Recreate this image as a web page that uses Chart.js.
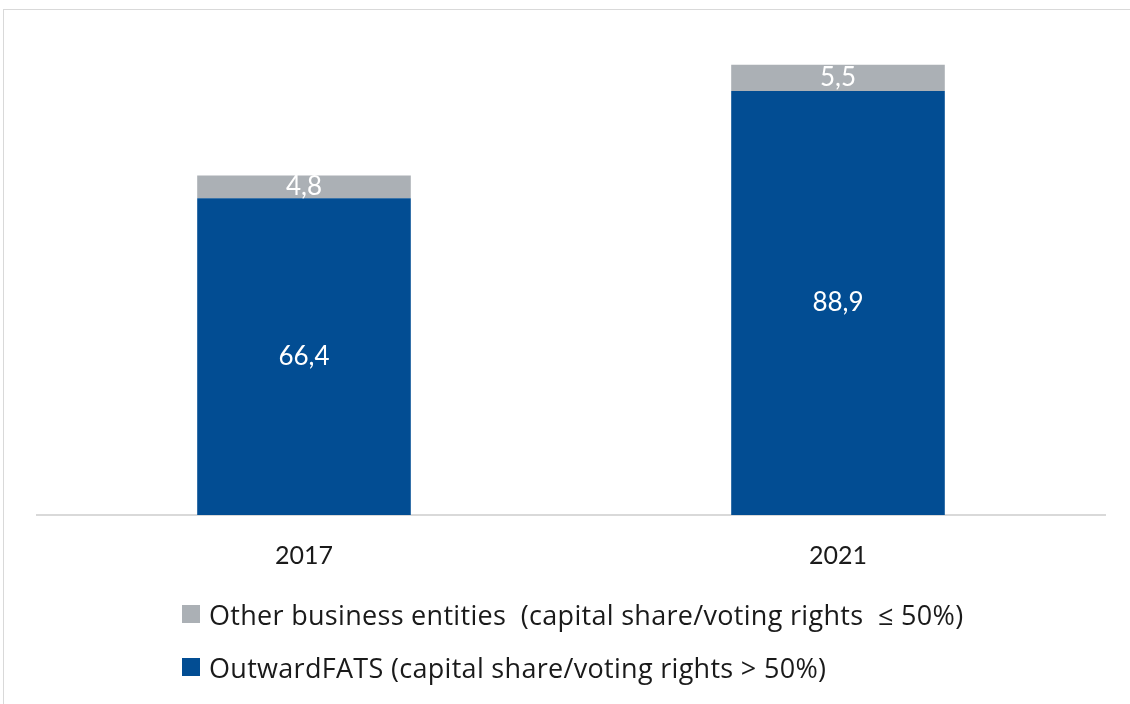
<!DOCTYPE html>
<html>
<head>
<meta charset="utf-8">
<script src="https://cdn.jsdelivr.net/npm/chart.js@4.4.1/dist/chart.umd.min.js"></script>
<style>
    html, body { margin: 0; padding: 0; background: #fff; }
    body { width: 1130px; height: 704px; position: relative; overflow: hidden; font-family: 'Lato', sans-serif; }
    .frame { position: absolute; left: 3px; top: 9px; width: 1140px; height: 720px; border: 1px solid #d9d9d9; box-sizing: border-box; }
    .chart-wrap { position: absolute; left: 0; top: 0; width: 1130px; height: 704px; }
    .legend { position: absolute; left: 182px; top: 596px; color: #1a1a1a; font-size: 27px; letter-spacing: 0.3px; font-family: 'Open Sans', sans-serif; }
    .legend-item { display: flex; align-items: center; height: 36px; margin-bottom: 17px; white-space: pre; }
    .legend-box { width: 18px; height: 18px; margin-right: 9px; }
</style>
</head>
<body>
<div class="frame"></div>
<div class="chart-wrap"><canvas id="fatsChart" width="1130" height="704"></canvas></div>
<div class="legend" id="legend"></div>

<script>
// Chart data
const years = ['2017', '2021'];
const outwardFats = [66.4, 88.9];
const otherEntities = [4.8, 5.5];
const seriesNames = [
    'OutwardFATS (capital share/voting rights > 50%)',
    'Other business entities  (capital share/voting rights  \u2264 50%)'
];
const seriesColors = ['#024d93', '#abb0b5'];

// Labels in the middle of each segment
const segmentLabels = {
    id: 'segmentLabels',
    afterDatasetsDraw(chart) {
        const c = chart.ctx;
        c.save();
        c.fillStyle = '#ffffff';
        c.font = '26px Lato';
        c.textAlign = 'center';
        c.textBaseline = 'middle';
        chart.data.datasets.forEach((ds, i) => {
            chart.getDatasetMeta(i).data.forEach((bar, j) => {
                const mid = (bar.y + bar.base) / 2;
                c.fillText(ds.data[j].toFixed(1).replace('.', ','), bar.x, mid);
            });
        });
        c.restore();
    }
};

const ctx = document.getElementById('fatsChart').getContext('2d');
const fatsChart = new Chart(ctx, {
    type: 'bar',
    data: {
        labels: years,
        datasets: [
            {
                label: seriesNames[0],
                data: outwardFats,
                backgroundColor: seriesColors[0],
                barPercentage: 0.4,
                categoryPercentage: 1
            },
            {
                label: seriesNames[1],
                data: otherEntities,
                backgroundColor: seriesColors[1],
                barPercentage: 0.4,
                categoryPercentage: 1
            }
        ]
    },
    options: {
        responsive: false,
        animation: false,
        layout: {
            padding: { left: 37, right: 25, top: 38, bottom: 107 }
        },
        plugins: {
            legend: { display: false },
            tooltip: { enabled: false }
        },
        scales: {
            x: {
                stacked: true,
                grid: { display: false, drawTicks: false },
                border: { display: true, color: '#d9d9d9', width: 2 },
                ticks: {
                    color: '#1a1a1a',
                    padding: 26,
                    font: { family: 'Lato', size: 25 }
                }
            },
            y: {
                stacked: true,
                display: false,
                min: 0,
                max: 100
            }
        }
    },
    plugins: [segmentLabels]
});

// Legend, other entities listed first
const legend = document.getElementById('legend');
[1, 0].forEach(i => {
    const item = document.createElement('div');
    item.className = 'legend-item';
    const box = document.createElement('span');
    box.className = 'legend-box';
    box.style.background = seriesColors[i];
    const text = document.createElement('span');
    text.textContent = seriesNames[i];
    item.appendChild(box);
    item.appendChild(text);
    legend.appendChild(item);
});
</script>
</body>
</html>
